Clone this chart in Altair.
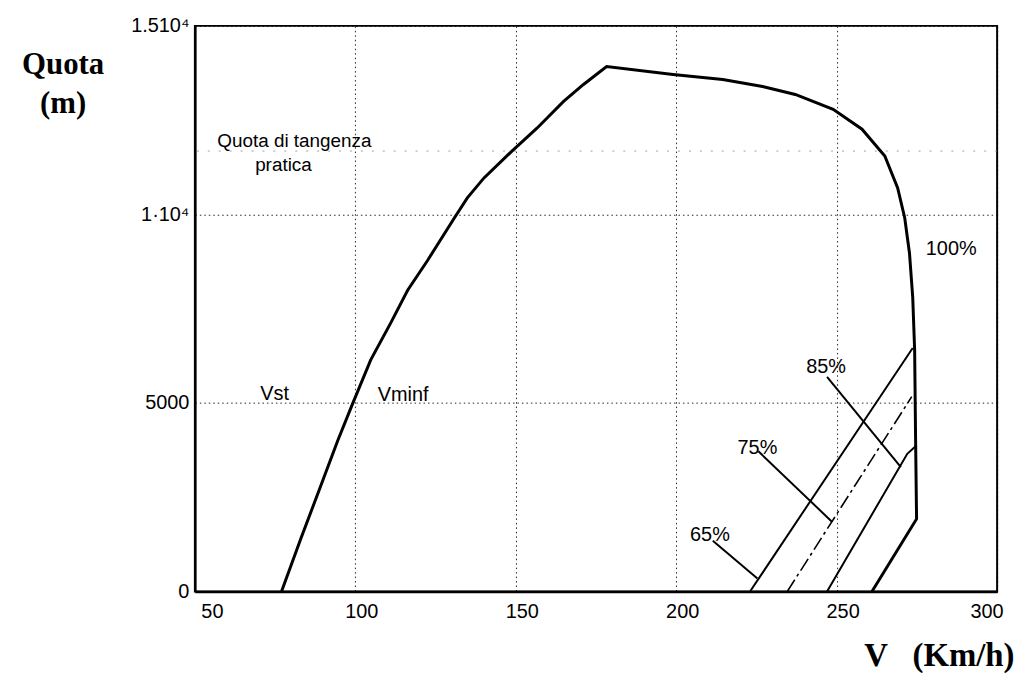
import altair as alt
import pandas as pd

# ---- data ----
# 100% power envelope (V in km/h, quota in m), drawn in path order
v100 = [77.0, 83.0, 89.0, 94.5, 99.0, 104.8, 111.0, 116.3, 122.5, 130.9, 134.9,
        140.1, 148.8, 156.6, 164.9, 171.1, 178.3, 199.0, 214.5, 226.9, 237.1,
        248.9, 257.9, 265.0, 269.0, 271.2, 272.7, 273.7, 274.3, 274.6, 274.9, 261.0]
h100 = [0, 1400, 2750, 4000, 4950, 6143, 7118, 7988, 8779, 9913, 10440,
        10968, 11680, 12286, 12998, 13446, 13920, 13710, 13578, 13393, 13182,
        12787, 12260, 11548, 10704, 9913, 8964, 7804, 6400, 4000, 1925, 0]

v65 = [223.0, 273.7]
h65 = [0, 6459]
v75 = [234.6, 273.4]
h75 = [0, 5167]
v85 = [247.0, 272.0, 274.6]
h85 = [0, 3650, 3850]

# leader lines from labels to curves
lead_v1 = [211.4, 225.6, 247.0]
lead_h1 = [1345, 3717, 5695]
lead_v2 = [225.3, 248.6, 270.0]
lead_h2 = [343, 1845, 3296]

pct_text = ["100%", "85%", "75%", "65%"]
pct_v = [285.7, 246.7, 225.3, 210.5]
pct_h = [8911, 5800, 3638, 1345]

note_text = ["Quota di tangenza", "pratica"]
note_v = [81.0, 77.6]
note_h = [11790, 11150]

left_text = ["Vst", "Vminf"]
left_v = [70.4, 107.0]
left_h = [5088, 5062]

ceiling_h = [11680]

x_ticks = [50, 100, 150, 200, 250, 300]
y_ticks = [0, 5000, 10000, 15000]

# ---- build tables ----
def curve(vs, hs, name):
    return pd.DataFrame({"V": vs, "H": hs, "i": list(range(len(vs))), "s": name})

d100 = curve(v100, h100, "100")
d65 = curve(v65, h65, "65")
d75 = curve(v75, h75, "75")
d85 = curve(v85, h85, "85")
leads = pd.DataFrame({"V": lead_v1, "H": lead_h1, "V2": lead_v2, "H2": lead_h2})
pct = pd.DataFrame({"V": pct_v, "H": pct_h, "t": pct_text})
notes = pd.DataFrame({"V": note_v, "H": note_h, "t": note_text})
lft = pd.DataFrame({"V": left_v, "H": left_h, "t": left_text})
ceil = pd.DataFrame({"H": ceiling_h})

xs = alt.Scale(domain=[50, 300], nice=False, zero=False)
ys = alt.Scale(domain=[0, 15000], nice=False, zero=False)

FONT = "Liberation Sans"
SERIF = "Liberation Serif"

xax = alt.Axis(values=x_ticks, labelFontSize=20, labelFont=FONT, labelColor="black",
               ticks=False, labelPadding=10, grid=True, gridColor="black",
               gridDash=[1.5, 3], gridWidth=1, gridOpacity=0.85,
               domain=True, domainColor="black", domainWidth=2.5,
               title="V\u00a0\u00a0\u00a0(Km/h)", titleFont=SERIF, titleFontSize=33,
               titleFontWeight="bold", titleColor="black", titleAngle=0,
               titleAlign="right", titleBaseline="alphabetic",
               titleX=824, titleY=74, labelOffset=6)
yax = alt.Axis(values=y_ticks, format="d",
               labelExpr="datum.value == 15000 ? '1.510\u2074' : (datum.value == 10000 ? '1\u00b710\u2074' : datum.label)",
               labelFontSize=20, labelFont=FONT, labelColor="black",
               ticks=False, labelPadding=6, grid=True, gridColor="black",
               gridDash=[1.5, 3], gridWidth=1, gridOpacity=0.85,
               domain=True, domainColor="black", domainWidth=2.5,
               title=["Quota", "(m)"], titleFont=SERIF, titleFontSize=31,
               titleFontWeight="bold", titleColor="black", titleAngle=0,
               titleAlign="center", titleBaseline="alphabetic",
               titleX=-133, titleY=48, titleLineHeight=39)

base_x = alt.X("V:Q", scale=xs, axis=xax)
base_y = alt.Y("H:Q", scale=ys, axis=yax)

ceiling = alt.Chart(ceil).mark_rule(color="#888", strokeDash=[2, 9], strokeWidth=1,
                                    opacity=0.8).encode(
    y=alt.Y("H:Q", scale=ys))

main = alt.Chart(d100).mark_line(color="black", strokeWidth=3).encode(
    x=base_x, y=base_y, order="i:Q")
l65 = alt.Chart(d65).mark_line(color="black", strokeWidth=2).encode(
    x=alt.X("V:Q", scale=xs), y=alt.Y("H:Q", scale=ys), order="i:Q")
l75 = alt.Chart(d75).mark_line(color="black", strokeWidth=1.6, strokeDash=[14, 4, 3, 4]).encode(
    x=alt.X("V:Q", scale=xs), y=alt.Y("H:Q", scale=ys), order="i:Q")
l85 = alt.Chart(d85).mark_line(color="black", strokeWidth=2).encode(
    x=alt.X("V:Q", scale=xs), y=alt.Y("H:Q", scale=ys), order="i:Q")

lead = alt.Chart(leads).mark_rule(color="black", strokeWidth=2).encode(
    x=alt.X("V:Q", scale=xs), y=alt.Y("H:Q", scale=ys), x2="V2:Q", y2="H2:Q")

txt_c = alt.Chart(pct).mark_text(font=FONT, fontSize=20, color="black",
                                 align="center", baseline="alphabetic").encode(
    x=alt.X("V:Q", scale=xs), y=alt.Y("H:Q", scale=ys), text="t:N")
txt_n = alt.Chart(notes).mark_text(font=FONT, fontSize=19, color="black",
                                   align="center", baseline="alphabetic").encode(
    x=alt.X("V:Q", scale=xs), y=alt.Y("H:Q", scale=ys), text="t:N")
txt_l = alt.Chart(lft).mark_text(font=FONT, fontSize=20, color="black",
                                 align="left", baseline="alphabetic").encode(
    x=alt.X("V:Q", scale=xs), y=alt.Y("H:Q", scale=ys), text="t:N")

chart = alt.layer(ceiling, main, l65, l75, l85, lead, txt_c, txt_n, txt_l).properties(
    width=807, height=569,
    autosize=alt.AutoSizeParams(type="none"),
    padding={"left": 188, "top": 16, "right": 20, "bottom": 80},
    background="white",
).configure_view(stroke="black", strokeWidth=2)

chart.save("out.html", embed_options={"renderer": "svg", "actions": False})
